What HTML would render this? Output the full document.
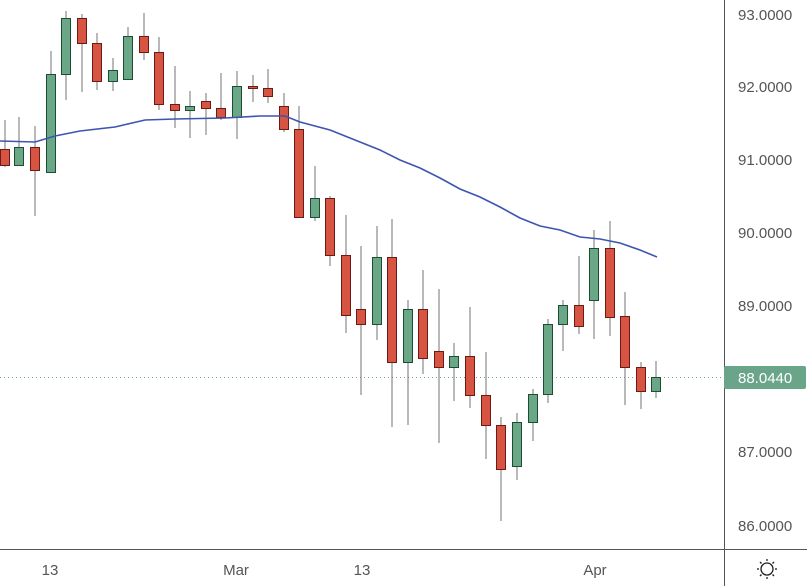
<!DOCTYPE html>
<html><head><meta charset="utf-8"><style>
html,body{margin:0;padding:0;background:#fff;width:807px;height:586px;overflow:hidden}
svg{display:block;font-family:"Liberation Sans",sans-serif}
</style></head><body>
<svg id="s" width="807" height="586" viewBox="0 0 807 586" xmlns="http://www.w3.org/2000/svg">
<line x1="0" y1="377.5" x2="724" y2="377.5" stroke="#6aa58a" stroke-width="1" stroke-dasharray="1,3"/>
<g id="c"></g>
<polyline fill="none" stroke="#3d55b0" stroke-width="1.6" points="0,141 35,142 55,136 80,131 115,127 145,120 175,119 225,118 260,116 285,116 300,122 330,130 360,142 380,150 400,160 420,168 440,178 460,189 480,197 500,207 520,218 540,226 560,230 580,237 600,239 620,243 640,250 657,257"/>
<line x1="724.5" y1="0" x2="724.5" y2="586" stroke="#555" stroke-width="1"/>
<line x1="0" y1="549.5" x2="807" y2="549.5" stroke="#555" stroke-width="1"/>
<g font-size="15" fill="#555">
<text x="738" y="20">93.0000</text>
<text x="738" y="92">92.0000</text>
<text x="738" y="165">91.0000</text>
<text x="738" y="238">90.0000</text>
<text x="738" y="311">89.0000</text>
<text x="738" y="457">87.0000</text>
<text x="738" y="531">86.0000</text>
<text x="50" y="575" text-anchor="middle">13</text>
<text x="236" y="575" text-anchor="middle">Mar</text>
<text x="362" y="575" text-anchor="middle">13</text>
<text x="595" y="575" text-anchor="middle">Apr</text>
</g>
<rect x="724" y="366" width="82" height="23" rx="2" fill="#6aa58a"/>
<text x="738" y="383" font-size="15" fill="#fff">88.0440</text>
<g stroke="#222" stroke-width="1.3" fill="none">
<circle cx="767" cy="569" r="6"/>
<line x1="767" y1="559" x2="767" y2="561"/><line x1="767" y1="577" x2="767" y2="579"/>
<line x1="757" y1="569" x2="759" y2="569"/><line x1="775" y1="569" x2="777" y2="569"/>
<line x1="760" y1="562" x2="761.5" y2="563.5"/><line x1="772.5" y1="574.5" x2="774" y2="576"/>
<line x1="774" y1="562" x2="772.5" y2="563.5"/><line x1="761.5" y1="574.5" x2="760" y2="576"/>
</g>
</svg>
<script>
var d=[[0,'r',149,165,120,167],[14,'g',147,165,117,166],[30,'r',147,170,126,216],[46,'g',74,172,51,172],[61,'g',18,74,11,100],[77,'r',18,43,14,92],[92,'r',43,81,33,90],[108,'g',70,81,58,91],[123,'g',36,79,27,79],[139,'r',36,52,13,60],[154,'r',52,104,37,110],[170,'r',104,110,66,128],[185,'g',106,110,91,138],[201,'r',101,108,93,135],[216,'r',108,117,73,120],[232,'g',86,117,71,139],[248,'r',86,88,75,102],[263,'r',88,96,69,103],[279,'r',106,129,93,132],[294,'r',129,217,106,217],[310,'g',198,217,166,221],[325,'r',198,255,196,266],[341,'r',255,315,215,333],[356,'r',309,324,246,395],[372,'g',257,324,226,340],[387,'r',257,362,219,427],[403,'g',309,362,300,425],[418,'r',309,358,270,374],[434,'r',351,367,289,443],[449,'g',356,367,343,401],[465,'r',356,395,307,408],[481,'r',395,425,352,459],[496,'r',425,469,417,521],[512,'g',422,466,413,480],[528,'g',394,422,389,441],[543,'g',324,394,319,403],[558,'g',305,324,300,351],[574,'r',305,326,256,334],[589,'g',248,300,230,339],[605,'r',248,317,221,336],[620,'r',316,367,292,405],[636,'r',367,391,362,409],[651,'g',377,391,361,398]];
var h='';d.forEach(function(c){var x=c[0],cx=x+5;
h+='<line x1="'+cx+'" y1="'+c[4]+'" x2="'+cx+'" y2="'+c[5]+'" stroke="#737373" stroke-width="1"/>';
var f=c[1]=='r'?'#d85442':'#6aa787',s=c[1]=='r'?'#6b1a14':'#1d4d33';
h+='<rect x="'+(x+0.5)+'" y="'+(c[2]+0.5)+'" width="9" height="'+Math.max(1,c[3]-c[2])+'" fill="'+f+'" stroke="'+s+'" stroke-width="1"/>';});
document.getElementById('c').innerHTML=h;
</script>
</body></html>
